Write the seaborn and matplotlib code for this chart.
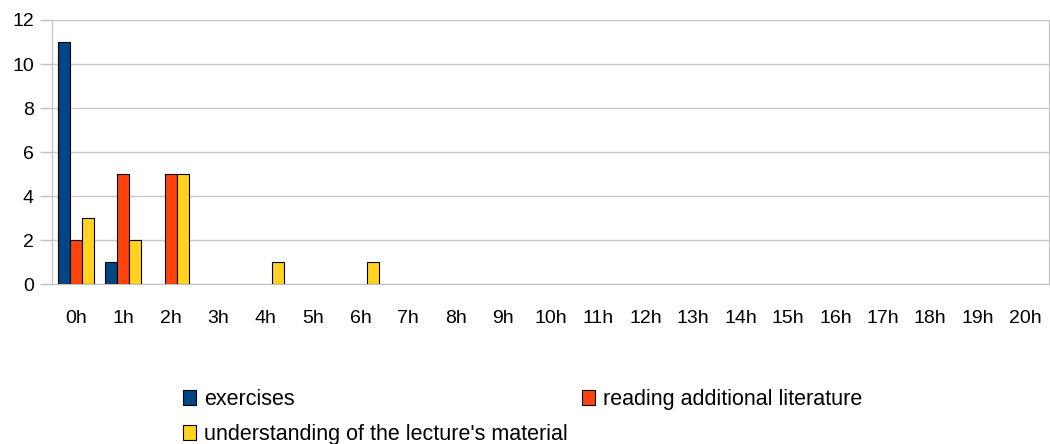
import numpy as np
import pandas as pd
import seaborn as sns
import matplotlib.pyplot as plt
from matplotlib.patches import Patch

hours = [f"{h}h" for h in range(21)]
series = ["exercises", "reading additional literature", "understanding of the lecture's material"]
exercises = [11, 1, 0, 0, 0, 0, 0, 0, 0, 0, 0, 0, 0, 0, 0, 0, 0, 0, 0, 0, 0]
reading = [2, 5, 5, 0, 0, 0, 0, 0, 0, 0, 0, 0, 0, 0, 0, 0, 0, 0, 0, 0, 0]
understanding = [3, 2, 5, 0, 1, 0, 1, 0, 0, 0, 0, 0, 0, 0, 0, 0, 0, 0, 0, 0, 0]
colors = ["#004586", "#ff420e", "#ffd320"]

df = pd.DataFrame({"hours": hours * 3,
                   "count": exercises + reading + understanding,
                   "activity": np.repeat(series, len(hours))})

sns.set_style("white", {"text.color": "black", "xtick.color": "black", "ytick.color": "black"})
plt.rcParams['font.family'] = ['Liberation Sans', 'DejaVu Sans']

fig = plt.figure(figsize=(10.5, 4.44), dpi=100)
ax = fig.add_axes([52/1050, 160/444, 997/1050, 264/444])
sns.barplot(data=df, x="hours", y="count", hue="activity", order=hours,
            hue_order=series, palette=colors, width=0.76, gap=0,
            edgecolor="black", linewidth=0.8, saturation=1, ax=ax, legend=False)
# hide the zero-height bars so no black outline sits on the baseline
for p in ax.patches:
    if p.get_height() == 0:
        p.set_visible(False)

ax.set_xlim(-0.5, 20.5)
ax.set_ylim(0, 12)
ax.set_yticks(range(0, 13, 2))
ax.set_xlabel("")
ax.set_ylabel("")
ax.yaxis.grid(True, color="#c8c8c8", linewidth=1)
ax.set_axisbelow(True)
for s in ax.spines.values():
    s.set_color("#c0c0c0")
ax.spines['top'].set_visible(False)

ax.set_xticks(np.arange(-0.5, 21, 1), minor=True)
ax.tick_params(axis="x", which="major", length=0, pad=19, labelsize=14)
ax.tick_params(axis="x", which="minor", length=8, color="#c0c0c0", width=1, direction="out")
ax.tick_params(axis="y", length=9, color="#c0c0c0", width=1, pad=4, labelsize=14, left=True)

# row-major legend: exercises | reading, then understanding
handles = [Patch(facecolor=c, edgecolor="black", linewidth=0.8) for c in colors]
order = [0, 2, 1]
fig.legend([handles[i] for i in order], [series[i] for i in order],
           loc="upper left", bbox_to_anchor=(174/1050, 1 - 380/444),
           ncol=2, frameon=False, fontsize=15.5, handlelength=0.6, handleheight=0.7,
           handletextpad=0.4, columnspacing=0.65, labelspacing=0.65, borderaxespad=0)

fig.savefig("out.png", dpi=100)
